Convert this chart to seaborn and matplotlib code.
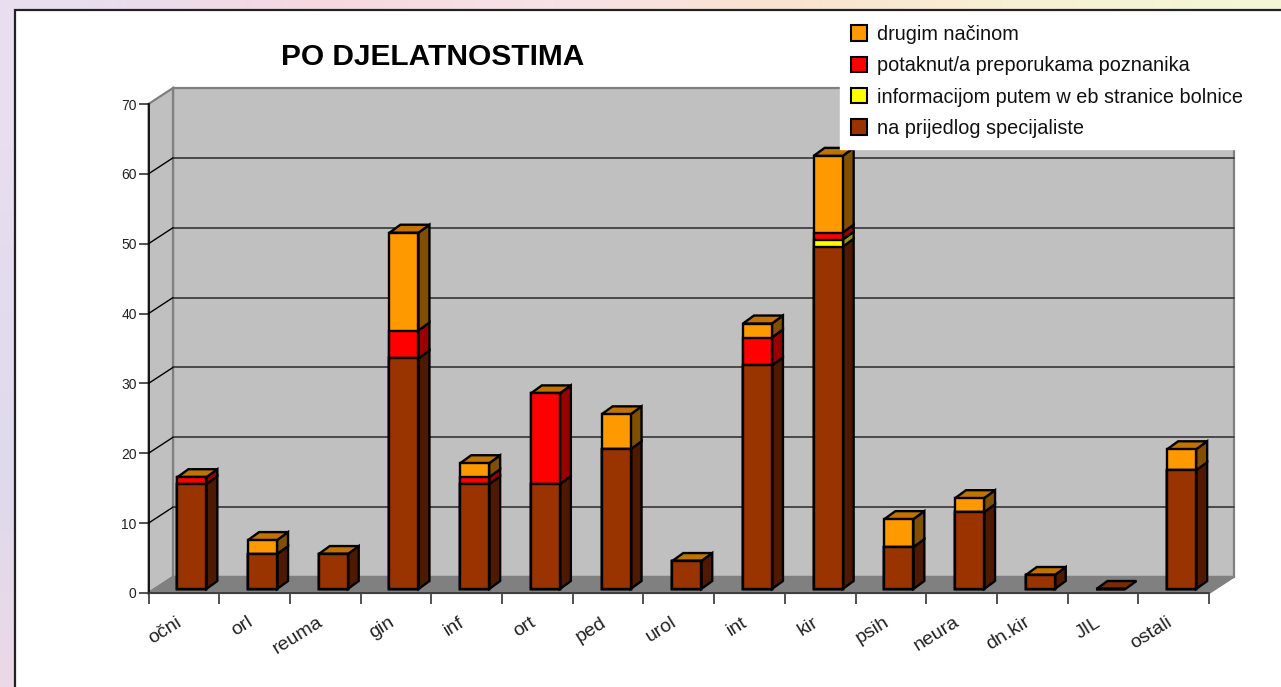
import numpy as np
import pandas as pd
import matplotlib
matplotlib.use('Agg')
import matplotlib.pyplot as plt
import matplotlib.transforms as mtrans
from matplotlib.patches import Patch, Rectangle
import seaborn as sns

# Dados
categorias = ['očni', 'orl', 'reuma', 'gin', 'inf', 'ort', 'ped', 'urol', 'int', 'kir',
              'psih', 'neura', 'dn.kir', 'JIL', 'ostali']
specijalist = [15, 5, 5, 33, 15, 15, 20, 4, 32, 49, 6, 11, 2, 0, 17]
web = [0, 0, 0, 0, 0, 0, 0, 0, 0, 1, 0, 0, 0, 0, 0]
poznanik = [1, 0, 0, 4, 1, 13, 0, 0, 4, 1, 0, 0, 0, 0, 0]
drugo = [0, 2, 0, 14, 2, 0, 5, 0, 2, 11, 4, 2, 0, 0, 3]

nazivi = ['na prijedlog specijaliste', 'informacijom putem w eb stranice bolnice',
          'potaknut/a preporukama poznanika', 'drugim načinom']
boje = ['#993300', '#FFFF00', '#FF0000', '#FF9900']
boje_bok = ['#4D1A00', '#999900', '#990000', '#805000']
boje_vrh = ['#7A2900', '#CCCC00', '#CC0000', '#C07300']
vrijednosti_y = [0, 10, 20, 30, 40, 50, 60, 70]

# Fundo decorativo do slide
fundo_cores = [[(232, 222, 240), (246, 216, 224), (246, 226, 232), (250, 226, 208), (248, 240, 212), (244, 246, 214)],
               [(222, 218, 236), (255, 255, 255), (255, 255, 255), (255, 255, 255), (255, 255, 255), (255, 255, 255)],
               [(244, 216, 228), (255, 255, 255), (255, 255, 255), (255, 255, 255), (255, 255, 255), (255, 255, 255)]]

W, H = 1281, 687
sns.set_theme(style='white')
plt.rcParams['font.family'] = ['Liberation Sans', 'DejaVu Sans']

fig = plt.figure(figsize=(W / 100, H / 100), dpi=100)
bg = fig.add_axes([0, 0, 1, 1], zorder=-5)
bg.imshow(np.array(fundo_cores, dtype=np.uint8), aspect='auto', interpolation='bilinear',
          extent=(-0.02 * W, 1.05 * W, 1.4 * H, -0.02 * H))
bg.set_xlim(0, W)
bg.set_ylim(H, 0)
bg.axis('off')

# Okvir
fig.add_artist(Rectangle((14.5 / W, -0.01), 1.02, (H - 10) / H + 0.01, transform=fig.transFigure,
                         facecolor='white', edgecolor='#222222', linewidth=1.6, zorder=-1))

# Eixos = face frontal do grafico (148..1209, 593..104)
ax = fig.add_axes([148.5 / W, (H - 593) / H, (1209 - 148.5) / W, (593 - 104) / H])
ax.patch.set_alpha(0)

df = pd.DataFrame({'kat': categorias, 's0': specijalist, 's1': web, 's2': poznanik, 's3': drugo})
kum = df[['s0', 's1', 's2', 's3']].cumsum(axis=1).to_numpy()

# Deslocamento das barras dentro da profundidade
pomak = mtrans.ScaledTranslation(8 / 100, 4 / 100, fig.dpi_scale_trans)
tr_bar = ax.transData + pomak
sirina = 0.41

# Barras empilhadas: da maior acumulada para a menor
for j in [3, 2, 1, 0]:
    prije = len(ax.patches)
    sns.barplot(x=df['kat'], y=kum[:, j], color=boje[j], saturation=1, width=sirina,
                edgecolor='black', linewidth=1.7, ax=ax, zorder=5 + (3 - j))
    for p in ax.patches[prije:]:
        p.set_transform(tr_bar)
        p.set_clip_on(False)

ax.set_xlim(-0.5, 14.5)
ax.set_ylim(0, 70)

# Paredes e piso em 3D
dub_x, dub_y = 24.5 * 15 / 1060.5, 16 * 70 / 489
kw_zid = dict(clip_on=False, linewidth=1.6, edgecolor='#808080')
ax.fill([-0.5 + dub_x, 14.5 + dub_x, 14.5 + dub_x, -0.5 + dub_x],
        [dub_y, dub_y, 70 + dub_y, 70 + dub_y], facecolor='#C0C0C0', zorder=0, **kw_zid)
ax.fill([-0.5, -0.5 + dub_x, -0.5 + dub_x, -0.5],
        [0, dub_y, 70 + dub_y, 70], facecolor='#C0C0C0', zorder=0.5, **kw_zid)
ax.fill([-0.5, 14.5, 14.5 + dub_x, -0.5 + dub_x],
        [0, 0, dub_y, dub_y], facecolor='#808080', zorder=0.6, **kw_zid)
for v in vrijednosti_y[1:-1]:
    ax.plot([-0.5 + dub_x, 14.5 + dub_x], [v + dub_y, v + dub_y], color='#404040', lw=1.3,
            clip_on=False, zorder=1)
    ax.plot([-0.5, -0.5 + dub_x], [v, v + dub_y], color='black', lw=1.0, clip_on=False, zorder=1)

# Faces lateral e superior das barras
bok_x, bok_y = 11 * 15 / 1060.5, 8 * 70 / 489
for i in range(len(categorias)):
    d = i + sirina / 2
    l = i - sirina / 2
    dno = 0
    for j in range(4):
        gore = kum[i, j]
        if gore > dno:
            ax.fill([d, d + bok_x, d + bok_x, d], [dno, dno + bok_y, gore + bok_y, gore],
                    facecolor=boje_bok[j], edgecolor='black', linewidth=1.7, transform=tr_bar,
                    clip_on=False, zorder=3)
        dno = gore
    vrh = boje_vrh[3] if dno > 0 else boje_vrh[0]
    ax.fill([l, d, d + bok_x, l + bok_x], [dno, dno, dno + bok_y, dno + bok_y],
            facecolor=vrh, edgecolor='black', linewidth=1.7, transform=tr_bar, clip_on=False, zorder=4)

# Eixos, ticks e rotulos
sns.despine(ax=ax, top=True, right=True)
ax.spines['left'].set_color('black')
ax.spines['bottom'].set_color('#333333')
ax.spines['left'].set_linewidth(1.2)
ax.spines['bottom'].set_linewidth(1.2)
ax.set_xlabel('')
ax.set_ylabel('')
ax.set_yticks(vrijednosti_y)
ax.set_xticks(range(len(categorias)))
ax.set_xticklabels(categorias)
ax.set_xticks(np.arange(-0.5, 15), minor=True)
ax.tick_params(axis='y', left=True, length=7, width=1.1, color='#222222', labelsize=10, pad=1.5,
               labelcolor='#222222')
ax.tick_params(axis='x', which='major', bottom=False, length=0, labelsize=14, pad=15, labelcolor='#222222')
ax.tick_params(axis='x', which='minor', bottom=True, length=8, width=1.1, color='#222222')
pomak_txt = mtrans.ScaledTranslation(-8 / 100, 0, fig.dpi_scale_trans)
for t in ax.get_xticklabels():
    t.set_rotation(32)
    t.set_ha('right')
    t.set_va('top')
    t.set_rotation_mode('anchor')
    t.set_transform(t.get_transform() + pomak_txt)

fig.text(432.5 / W, 1 - 57 / H, 'PO DJELATNOSTIMA', fontsize=21.5, fontweight='bold', color='black',
         ha='center', va='center')

# Legenda
ruke = [Patch(facecolor=boje[j], edgecolor='black', linewidth=1.5, label=nazivi[j]) for j in [3, 2, 1, 0]]
leg = fig.legend(handles=ruke, loc='upper left', bbox_to_anchor=(840 / W, 1 - 14 / H), fontsize=14.3,
                 frameon=True, fancybox=False, framealpha=1, facecolor='white', edgecolor='white',
                 handlelength=0.8, handleheight=0.8, handletextpad=0.5, labelspacing=0.62,
                 borderaxespad=0, borderpad=0.55, labelcolor='#111111')
leg.set_zorder(20)

fig.savefig('out.png', dpi=100)
